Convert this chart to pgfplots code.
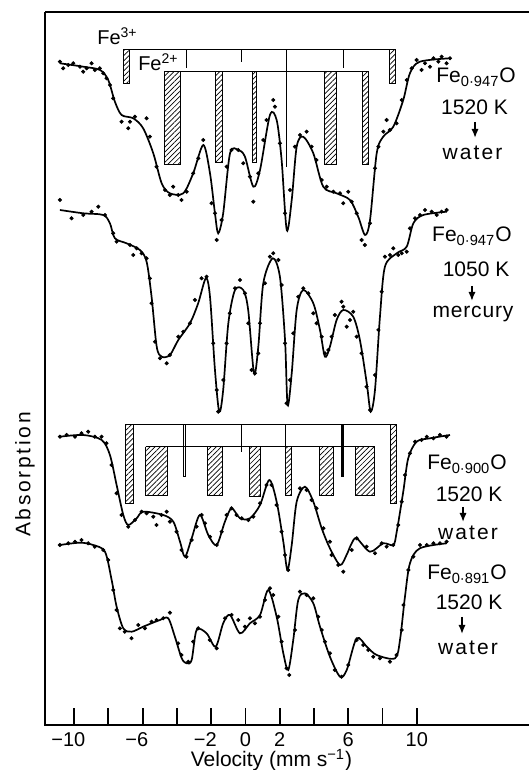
\documentclass[border=0pt]{standalone}
\usepackage{fontspec}
\setmainfont{Liberation Sans}
\usepackage{pgfplots}
\pgfplotsset{compat=1.18}
\usetikzlibrary{patterns.meta,arrows.meta}
\tikzset{
  hatch/.style={draw=black, line width=0.5pt, mark=none,
    pattern={Lines[angle=45,distance=1.8pt,line width=0.35pt]}},
  stick/.style={draw=black, line width=0.5pt, mark=none},
  fit/.style={black, line width=0.85pt, smooth, mark=none},
  pts/.style={black, only marks, mark=*, mark size=0.8pt},
  lab/.style={font=\fontsize{10.5}{12}\selectfont, anchor=base, inner sep=0pt},
  arr/.style={-{Latex[length=4.5pt,width=3.6pt]}, line width=0.8pt}
}
\begin{document}
\begin{tikzpicture}
\useasboundingbox (0,0) rectangle (264.5pt,385pt);
\begin{axis}[
  at={(22.5pt,22.5pt)}, anchor=south west,
  scale only axis, width=242pt, height=356.5pt,
  xmin=-11.70, xmax=16.55, ymin=45, ymax=758,
  axis line style={draw=none},
  clip=false,
  ytick=\empty,
  xtick={-10,-8,...,10},
  xticklabels={\llap{−}10,,\llap{−}6,,\llap{−}2,0,2,,6,,10},
  xtick pos=left, tick align=inside,
  major tick length=8.5pt,
  every tick/.style={black, line width=0.9pt},
  xticklabel style={font=\fontsize{10}{11}\selectfont, inner sep=0.5pt, yshift=-2.9pt},
]
% frame
\draw[line width=1pt] (rel axis cs:0,1) -- (rel axis cs:0,0) -- (rel axis cs:1,0);
\draw[line width=1pt] (rel axis cs:0,1) -- (rel axis cs:1,1);

% ---------------- Spectrum 1: Fe0.947O 1520 K -> water
\addplot[fit] coordinates {(-10.83,706.7) (-9.47,703.3) (-8.49,700) (-8.01,690) (-7.62,668.3) (-7.23,655) (-6.55,651.7) (-5.97,641.7) (-5.38,616.7) (-4.89,586.7) (-4.41,576.7) (-3.63,576.7) (-3.05,596.7) (-2.46,625) (-2.07,596.7) (-1.78,556.7) (-1.59,536.7) (-1.30,556.7) (-0.90,616.7) (-0.42,620) (-0.03,613.3) (0.46,583.3) (0.85,600) (1.43,655) (1.82,650) (2.11,610) (2.41,540) (2.70,570) (2.99,623.3) (3.37,633.3) (3.96,616.7) (4.54,583.3) (5.32,576.7) (6.10,570) (6.58,553.3) (6.98,535) (7.27,550) (7.66,616.7) (8.04,633.3) (8.63,643.3) (9.21,670) (9.60,696.7) (10.18,708.3) (11.94,711.7)};
\addplot[pts] coordinates {(-10.83,708.3) (-10.64,701.7) (-10.34,705) (-10.05,706.7) (-9.66,703.3) (-9.47,698.3) (-9.27,701.7) (-8.98,706.7) (-8.79,700) (-8.50,701.7) (-8.30,696.7) (-8.11,691.7) (-7.91,685) (-7.72,671.7) (-7.23,648.3) (-6.84,641.7) (-6.74,648.3) (-6.45,653.3) (-5.77,651.7) (-5.58,633.3) (-5.19,603.3) (-4.70,580) (-4.41,575) (-4.22,583.3) (-3.92,575) (-3.73,570) (-3.43,578.3) (-3.05,596.7) (-2.75,611.7) (-2.46,630) (-1.98,566.7) (-1.78,556.7) (-1.68,530) (-1.39,550) (-1.10,603.3) (-0.81,620) (-0.42,620) (-0.13,606.7) (0.26,593.3) (0.46,568.3) (0.75,596.7) (1.04,630) (1.23,650) (1.62,670) (1.72,663.3) (2.01,626.7) (2.31,556.7) (2.60,580) (2.89,623.3) (3.18,635) (3.57,638.3) (3.86,623.3) (4.15,610) (4.45,590) (4.74,583.3) (5.13,578.3) (5.52,576.7) (5.71,566.7) (6.00,578.3) (6.20,568.3) (6.49,556.7) (6.78,530) (6.97,525) (7.27,546.7) (7.56,601.7) (7.76,623.3) (8.05,638.3) (8.24,650) (8.43,640) (8.82,646.7) (9.12,670) (9.41,690) (9.70,701.7) (9.99,710) (10.28,700) (10.48,706.7) (10.77,703.3) (10.97,711.7) (11.26,708.3) (11.45,713.3) (11.74,706.7) (11.94,711.7)};
% stick diagram 1
\addplot[stick] coordinates {(-7.13,720) (8.73,720)};
\addplot[hatch] coordinates {(-7.13,720) (-6.78,720) (-6.78,686.7) (-7.13,686.7) (-7.13,720)};
\addplot[hatch] coordinates {(8.39,720) (8.73,720) (8.73,686.7) (8.39,686.7) (8.39,720)};
\addplot[stick] coordinates {(-3.43,720) (-3.43,701.7)};
\addplot[stick] coordinates {(-0.22,720) (-0.22,708.3)};
\addplot[stick] coordinates {(2.41,720) (2.41,603.3)};
\addplot[stick] coordinates {(5.71,720) (5.71,701.7)};
\addplot[stick] coordinates {(-4.74,698.3) (7.21,698.3)};
\addplot[hatch] coordinates {(-4.74,698.3) (-3.82,698.3) (-3.82,605) (-4.74,605) (-4.74,698.3)};
\addplot[hatch] coordinates {(-1.74,698.3) (-1.35,698.3) (-1.35,607.7) (-1.74,607.7) (-1.74,698.3)};
\addplot[hatch] coordinates {(0.40,698.3) (0.65,698.3) (0.65,607.7) (0.40,607.7) (0.40,698.3)};
\addplot[hatch] coordinates {(4.64,698.3) (5.32,698.3) (5.32,605) (4.64,605) (4.64,698.3)};
\addplot[hatch] coordinates {(6.82,698.3) (7.21,698.3) (7.21,605) (6.82,605) (6.82,698.3)};
\node[font=\fontsize{10}{12}\selectfont, anchor=base west, inner sep=0pt] at (axis cs:-8.67,725) {Fe\textsuperscript{3+}};
\node[font=\fontsize{10}{12}\selectfont, anchor=base west, inner sep=0pt] at (axis cs:-6.28,699) {Fe\textsuperscript{2+}};

% ---------------- Spectrum 2: Fe0.947O 1050 K -> mercury
\addplot[fit] coordinates {(-10.83,560) (-9.47,556.7) (-8.30,555) (-7.91,546.7) (-7.62,531.7) (-6.94,526.7) (-6.16,520) (-5.77,508.3) (-5.48,473.3) (-5.18,423.3) (-4.89,413.3) (-4.41,415) (-3.92,430) (-3.24,446.7) (-2.76,466.7) (-2.31,491.7) (-2.07,473.3) (-1.78,400) (-1.53,358.3) (-1.30,380) (-1.00,446.7) (-0.61,480) (-0.13,480) (0.16,460) (0.50,396.7) (0.75,423.3) (1.04,486.7) (1.59,511.7) (2.01,493.3) (2.31,430) (2.46,365) (2.70,396.7) (2.99,460) (3.37,480) (3.96,466.7) (4.35,440) (4.64,413.3) (4.93,423.3) (5.32,450) (5.71,460) (6.29,453.3) (6.68,430) (7.08,386.7) (7.31,358.3) (7.56,380) (7.85,453.3) (8.14,503.3) (8.83,516.7) (9.41,523.3) (9.80,546.7) (10.38,555) (11.75,558.3)};
\addplot[pts] coordinates {(-10.83,570) (-10.15,551.7) (-9.47,555) (-8.98,558.3) (-8.59,563.3) (-8.20,555) (-7.72,536.7) (-7.52,528.3) (-6.74,525) (-6.55,515) (-6.35,521.7) (-6.06,516.7) (-5.77,511.7) (-5.58,491.7) (-5.48,466.7) (-5.28,428.3) (-4.99,411.7) (-4.60,406.7) (-4.41,415) (-3.92,433.3) (-3.63,438.3) (-3.24,446.7) (-2.95,470) (-2.56,491.7) (-2.27,493.3) (-1.88,426.7) (-1.68,380) (-1.59,358.3) (-1.29,390) (-1.10,426.7) (-0.91,456.7) (-0.61,481.7) (-0.32,490) (-0.03,476.7) (0.17,446.7) (0.36,400) (0.55,396.7) (0.75,416.7) (0.85,446.7) (1.14,486.7) (1.43,513.3) (1.62,516.7) (1.92,510) (2.11,485) (2.31,426.7) (2.40,366.7) (2.60,390) (2.79,436.7) (3.08,473.3) (3.38,481.7) (3.67,476.7) (3.96,456.7) (4.15,446.7) (4.45,433.3) (4.64,416.7) (4.84,420) (5.03,433.3) (5.22,455) (5.61,468.3) (5.71,463.3) (5.91,443.3) (6.10,450) (6.29,458.3) (6.49,433.3) (6.78,416.7) (7.07,383.3) (7.27,360) (7.56,395) (7.76,440) (7.95,478.3) (8.14,513.3) (8.44,515) (8.63,521.7) (8.92,515) (9.12,516.7) (9.41,518.3) (9.60,541.7) (9.90,551.7) (10.19,555) (10.48,560) (10.87,558.3) (11.16,555) (11.45,558.3) (11.74,560)};

% ---------------- Spectrum 3: Fe0.900O 1520 K -> water
\addplot[fit] coordinates {(-10.83,333.3) (-9.47,335) (-8.39,330) (-7.91,315) (-7.52,285) (-7.13,255) (-6.84,245) (-6.35,251.7) (-5.97,258.3) (-4.80,255) (-4.21,248.3) (-3.82,228.3) (-3.53,213.3) (-3.14,231.7) (-2.66,255) (-2.17,235) (-1.68,225) (-1.20,248.3) (-0.81,261.7) (-0.32,251.7) (0.26,251.7) (0.85,265) (1.39,290) (1.82,268.3) (2.21,228.3) (2.45,200) (2.70,225) (2.99,268.3) (3.47,283.3) (3.96,268.3) (4.45,241.7) (4.93,221.7) (5.52,205) (5.90,215) (6.20,226.7) (6.49,231.7) (7.27,218.3) (8.04,226.7) (8.63,225) (8.83,238.3) (9.21,278.3) (9.50,311.7) (9.99,328.3) (10.77,331.7) (11.94,335)};
\addplot[pts] coordinates {(-10.83,333.3) (-10.44,335) (-9.95,333.3) (-9.57,336.7) (-9.18,338.3) (-8.79,333.3) (-8.40,333.3) (-8.11,326.7) (-7.82,305) (-7.52,276.7) (-7.23,255) (-6.84,243.3) (-6.45,250) (-6.06,258.3) (-5.77,256.7) (-5.38,253.3) (-5.19,245) (-4.90,255) (-4.60,258.3) (-4.41,248.3) (-4.02,238.3) (-3.73,220) (-3.44,213.3) (-3.14,230) (-2.85,243.3) (-2.56,255) (-2.36,246.7) (-2.07,233.3) (-1.68,225) (-1.39,238.3) (-1.10,255) (-0.81,261.7) (-0.52,255) (-0.22,251.7) (0.17,250) (0.46,253.3) (0.85,266.7) (1.23,285) (1.52,285) (1.82,265) (2.11,238.3) (2.31,215) (2.50,200) (3.18,281.7) (3.57,280) (3.86,270) (4.15,261.7) (4.55,241.7) (4.93,228.3) (5.03,215) (5.42,205) (5.71,198.3) (6.20,220) (6.49,231.7) (7.07,223.3) (7.56,216.7) (7.95,226.7) (8.24,223.3) (8.63,225) (8.92,245) (9.12,268.3) (9.31,295) (9.60,316.7) (9.90,328.3) (10.28,330) (10.58,333.3) (10.97,331.7) (11.35,335) (11.74,333.3)};
% stick diagram 3
\addplot[stick] coordinates {(-7.03,345) (8.83,345)};
\addplot[hatch] coordinates {(-6.98,345) (-6.55,345) (-6.55,266.7) (-6.98,266.7) (-6.98,345)};
\addplot[hatch] coordinates {(8.44,345) (8.83,345) (8.83,266.7) (8.44,266.7) (8.44,345)};
\addplot[stick] coordinates {(-3.63,345) (-3.63,293.3) (-3.50,293.3) (-3.50,345)};
\addplot[stick] coordinates {(-0.26,345) (-0.26,318.3)};
\addplot[stick] coordinates {(2.36,345) (2.36,275)};
\addplot[stick, line width=1.4pt] coordinates {(5.65,345) (5.65,293.3)};
\addplot[stick] coordinates {(-5.81,323.3) (7.52,323.3)};
\addplot[hatch] coordinates {(-5.81,323.3) (-4.57,323.3) (-4.57,274.3) (-5.81,274.3) (-5.81,323.3)};
\addplot[hatch] coordinates {(-2.21,323.3) (-1.33,323.3) (-1.33,274.3) (-2.21,274.3) (-2.21,323.3)};
\addplot[hatch] coordinates {(0.26,323.3) (0.89,323.3) (0.89,273.3) (0.26,273.3) (0.26,323.3)};
\addplot[hatch] coordinates {(2.36,323.3) (2.70,323.3) (2.70,274.3) (2.36,274.3) (2.36,323.3)};
\addplot[hatch] coordinates {(4.31,323.3) (5.13,323.3) (5.13,274.3) (4.31,274.3) (4.31,323.3)};
\addplot[hatch] coordinates {(6.43,323.3) (7.52,323.3) (7.52,274.3) (6.43,274.3) (6.43,323.3)};

% ---------------- Spectrum 4: Fe0.891O 1520 K -> water
\addplot[fit] coordinates {(-10.83,225) (-9.66,227.3) (-8.89,225) (-8.20,218.3) (-7.81,190) (-7.52,163.3) (-7.13,141.7) (-6.64,138.3) (-5.97,143.3) (-4.99,150) (-4.51,151.7) (-4.12,133.3) (-3.72,111.7) (-3.43,106.7) (-3.14,110) (-2.85,140) (-2.27,136.7) (-1.74,123.3) (-1.30,146.7) (-0.90,155) (-0.32,136.7) (0.26,146.7) (0.85,155) (1.33,180) (1.82,153.3) (2.21,116.7) (2.50,100) (2.79,130) (3.08,170) (3.47,176.7) (3.96,166.7) (4.35,143.3) (4.93,113.3) (5.52,93.3) (5.91,100) (6.49,131.7) (7.08,123.3) (7.66,115) (8.73,111.7) (9.02,130) (9.31,173.3) (9.60,206.7) (10.18,221.7) (11.75,226.7)};
\addplot[pts] coordinates {(-10.83,225) (-10.34,226.7) (-9.95,228.3) (-9.57,230) (-9.18,226.7) (-8.79,223.3) (-8.30,220) (-8.01,210) (-7.72,180) (-7.52,160) (-7.33,141.7) (-7.04,138.3) (-6.65,131.7) (-6.26,145) (-5.87,141.7) (-5.48,148.3) (-5.19,150) (-4.80,151.7) (-4.41,157.3) (-3.93,126.7) (-3.73,115) (-3.34,108.3) (-3.05,128.3) (-2.76,141.7) (-2.08,130) (-1.68,121.7) (-1.19,151.7) (-0.81,155) (-0.42,150) (-0.03,143.3) (0.26,151.7) (0.55,146.7) (0.85,153.3) (1.14,170) (1.43,181.7) (1.62,175) (1.92,153.3) (2.11,128.3) (2.40,101.7) (2.56,95) (2.89,140) (3.18,178.3) (3.57,175) (3.96,171.7) (4.25,153.3) (4.45,140) (4.64,128.3) (4.93,116.7) (5.22,100) (5.61,93.3) (6.00,105) (6.49,130) (6.88,125) (7.17,120) (7.46,113.3) (7.85,111.7) (8.43,108.3) (8.82,115) (9.12,140) (9.22,165) (9.51,200) (9.80,213.3) (10.19,225) (10.58,225) (10.97,226.7) (11.35,226.7) (11.74,228.3)};

% ---------------- labels
\node[lab] at (axis cs:13.46,687) {Fe\textsubscript{0·947}O};
\node[lab] at (axis cs:13.37,655) {1520 K};
\draw[arr] (axis cs:13.40,648) -- (axis cs:13.40,632);
\node[lab] at (axis cs:13.25,610) {\addfontfeature{LetterSpace=10}water};

\node[lab] at (axis cs:13.22,528) {Fe\textsubscript{0·947}O};
\node[lab] at (axis cs:13.46,493) {1050 K};
\draw[arr] (axis cs:13.22,484) -- (axis cs:13.22,469);
\node[lab] at (axis cs:13.28,452) {\addfontfeature{LetterSpace=4}mercury};

\node[lab] at (axis cs:12.93,300) {Fe\textsubscript{0·900}O};
\node[lab] at (axis cs:13.05,268) {1520 K};
\draw[arr] (axis cs:12.70,263) -- (axis cs:12.70,248);
\node[lab] at (axis cs:12.99,230) {\addfontfeature{LetterSpace=10}water};

\node[lab] at (axis cs:12.93,190) {Fe\textsubscript{0·891}O};
\node[lab] at (axis cs:13.05,160) {1520 K};
\draw[arr] (axis cs:12.64,153) -- (axis cs:12.64,136);
\node[lab] at (axis cs:12.99,115) {\addfontfeature{LetterSpace=10}water};

\node[font=\fontsize{10.5}{12}\selectfont, anchor=base, inner sep=0pt] at (axis cs:1.52,3) {Velocity (mm s\smash{\textsuperscript{−1}})};
\node[rotate=90, font=\fontsize{10.5}{12}\selectfont] at (axis cs:-12.87,295.5) {\addfontfeature{LetterSpace=13}Absorption};
\end{axis}
\end{tikzpicture}
\end{document}
